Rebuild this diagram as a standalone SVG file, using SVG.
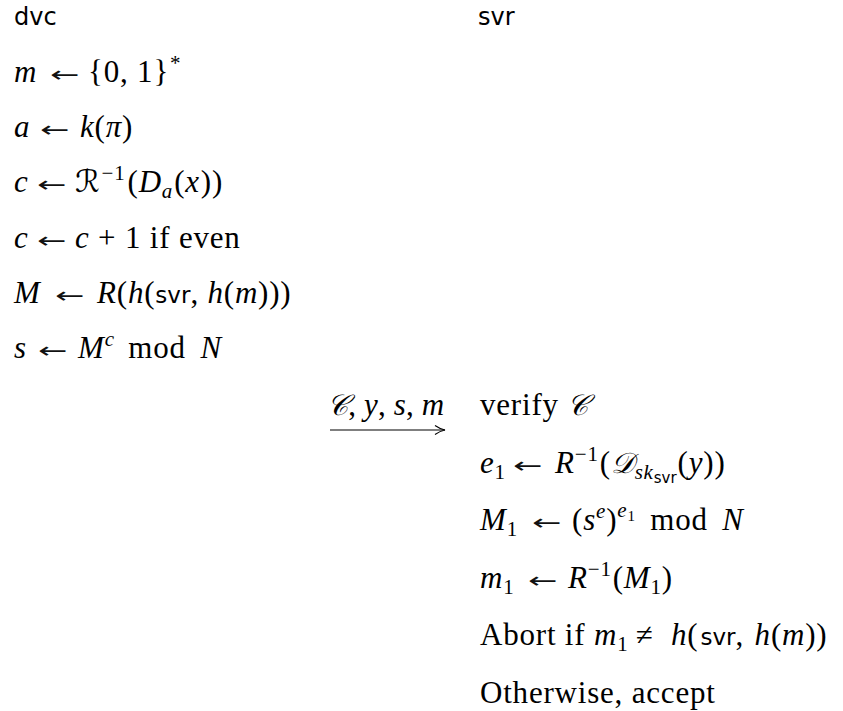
<svg xmlns="http://www.w3.org/2000/svg" width="843" height="711" viewBox="0 0 843 711">
<defs>
<style>
text{font-family:"Liberation Serif","DejaVu Serif",serif;font-size:31px;fill:#000;letter-spacing:0.8px}
.h{font-family:"DejaVu Sans","Liberation Sans",sans-serif;font-size:24px;letter-spacing:0}
.i{font-style:italic}
.sf{font-family:"DejaVu Sans","Liberation Sans",sans-serif;font-size:23px;font-style:normal;letter-spacing:0}
.cal{font-family:"DejaVu Serif","DejaVu Sans",serif;font-style:italic;font-size:29px}
.ar{font-family:"DejaVu Sans",sans-serif;font-size:22px;letter-spacing:0;fill:#111}
.sup{font-size:21px}
.ss{font-size:15px}
</style>
<marker id="ah" viewBox="0 0 12 12" refX="11" refY="6" markerWidth="12" markerHeight="12" markerUnits="userSpaceOnUse" orient="auto">
<path d="M1,1.5 Q6,5 11,6 Q6,7 1,10.5" fill="none" stroke="#000" stroke-width="1.1"/>
</marker>
</defs>
<rect width="843" height="711" fill="#fff"/>
<g id="dvc">
<text class="h" x="14" y="25">dvc</text>
<text x="14" y="82" class="i">m</text>
<text class="ar" transform="translate(50,82) scale(1.6,1)">←</text>
<text x="88" y="82">{0, 1}<tspan class="sup" dx="1" dy="-12">*</tspan></text>
<text x="14" y="137" class="i">a</text>
<text class="ar" transform="translate(40,137) scale(1.6,1)">←</text>
<text x="80" y="137"><tspan class="i">k</tspan>(<tspan class="i">π</tspan>)</text>
<text x="14" y="192" class="i">c</text>
<text class="ar" transform="translate(37,192) scale(1.6,1)">←</text>
<text x="75" y="192"><tspan class="cal" style="font-size:31px">ℛ</tspan><tspan class="sup" dx="1" dy="-12">−1</tspan><tspan dx="2" dy="12">(</tspan><tspan class="i">D</tspan><tspan class="sup i" dy="6">a</tspan><tspan dx="1" dy="-6">(</tspan><tspan class="i">x</tspan><tspan dx="1">))</tspan></text>
<text x="14" y="248" class="i">c</text>
<text class="ar" transform="translate(37,248) scale(1.6,1)">←</text>
<text x="75" y="248"><tspan class="i">c</tspan> + 1 if even</text>
<text x="14" y="303" class="i">M</text>
<text class="ar" transform="translate(55,303) scale(1.6,1)">←</text>
<text x="97" y="303"><tspan class="i">R</tspan>(<tspan class="i">h</tspan>(<tspan class="sf">svr</tspan>, <tspan class="i">h</tspan>(<tspan class="i">m</tspan>)))</text>
<text x="14" y="358" class="i">s</text>
<text class="ar" transform="translate(38,358) scale(1.6,1)">←</text>
<text x="78" y="358"><tspan class="i">M</tspan><tspan class="sup i" dy="-12">c</tspan><tspan dx="5" dy="12"> mod </tspan><tspan class="i" dx="6">N</tspan></text>
</g>
<g id="svr">
<text class="h" x="478" y="25">svr</text>
<text x="480" y="415">verify <tspan class="cal">𝒞</tspan></text>
<text x="480" y="473"><tspan class="i">e</tspan><tspan class="sup" dy="6">1</tspan></text>
<text class="ar" transform="translate(513,473) scale(1.6,1)">←</text>
<text x="555" y="473"><tspan class="i">R</tspan><tspan class="sup" dy="-12">−1</tspan><tspan dx="1" dy="12">(</tspan><tspan class="cal">𝒟</tspan><tspan class="sup i" dy="6">sk</tspan><tspan class="ss sf" dy="4">svr</tspan><tspan dx="1" dy="-10">(</tspan><tspan class="i">y</tspan>))</text>
<text x="480" y="530"><tspan class="i">M</tspan><tspan class="sup" dy="6">1</tspan></text>
<text class="ar" transform="translate(532,530) scale(1.6,1)">←</text>
<text x="572" y="530">(<tspan class="i">s</tspan><tspan class="sup i" dy="-12">e</tspan><tspan dy="12">)</tspan><tspan class="sup i" dy="-13">e</tspan><tspan class="ss" dy="4">1</tspan><tspan dx="6" dy="9"> mod </tspan><tspan class="i" dx="6">N</tspan></text>
<text x="480" y="588"><tspan class="i">m</tspan><tspan class="sup" dy="6">1</tspan></text>
<text class="ar" transform="translate(528,588) scale(1.6,1)">←</text>
<text x="568" y="588"><tspan class="i">R</tspan><tspan class="sup" dy="-12">−1</tspan><tspan dx="1" dy="12">(</tspan><tspan class="i">M</tspan><tspan class="sup" dy="6">1</tspan><tspan dy="-6">)</tspan></text>
<text x="480" y="645">Abort if <tspan class="i">m</tspan><tspan class="sup" dy="6">1</tspan></text>
<text x="636" y="645">≠</text>
<text x="671" y="645"><tspan class="i">h</tspan>(<tspan class="sf" dx="2">svr</tspan>, <tspan class="i" dx="2">h</tspan>(<tspan class="i">m</tspan>))</text>
<text x="480" y="703">Otherwise, accept</text>
</g>
<g id="connectors">
<line x1="330" y1="430" x2="445" y2="430" stroke="#000" stroke-width="1.1" marker-end="url(#ah)"/>
<text x="327" y="415" textLength="118" lengthAdjust="spacing"><tspan class="cal">𝒞</tspan>, <tspan class="i">y</tspan>, <tspan class="i">s</tspan>, <tspan class="i">m</tspan></text>
</g>
</svg>
